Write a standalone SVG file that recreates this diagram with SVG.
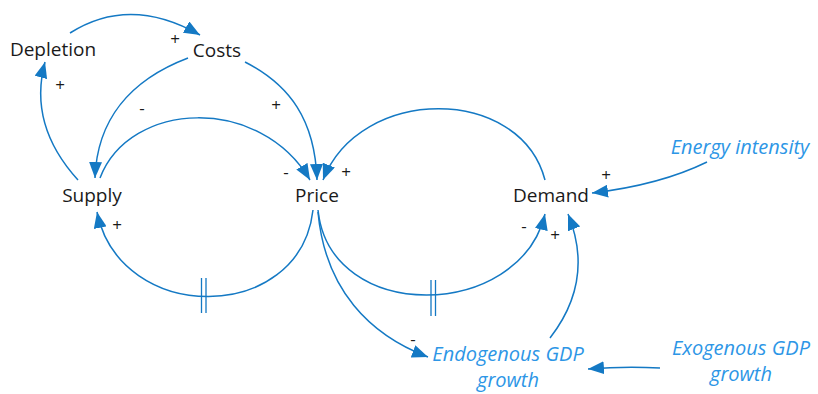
<svg xmlns="http://www.w3.org/2000/svg" width="818" height="394" viewBox="0 0 818 394">
<defs>
<marker id="ah" markerUnits="userSpaceOnUse" markerWidth="17" markerHeight="13" refX="16" refY="6.5" orient="auto">
<path d="M0,0 L16,6.5 L0,13 Z" fill="#1479c4"/>
</marker>
<style>
.c{fill:none;stroke:#1479c4;stroke-width:1.5;marker-end:url(#ah)}
.d{fill:none;stroke:#1479c4;stroke-width:1.3}
.n{font-family:"Open Sans","Noto Sans",sans-serif;font-size:19px;fill:#1a1a1a;text-anchor:middle}
.e{font-family:"Open Sans","Noto Sans",sans-serif;font-size:20px;fill:#2d96e6;font-style:italic;text-anchor:middle}
.s{font-family:"Open Sans","Noto Sans",sans-serif;font-size:17px;fill:#1a1a1a;text-anchor:middle}
</style>
</defs>
<rect width="818" height="394" fill="#ffffff"/>
<g id="connectors">
<path class="c" d="M70,33 Q130,-5 200,35"/>
<path class="c" d="M78,180 Q28,125 45,62"/>
<path class="c" d="M188,58 C130,80 97,120 95,178"/>
<path class="c" d="M245,62 C290,85 315,120 317,180"/>
<path class="c" d="M100,178 C130,100 260,95 310,180"/>
<path class="c" d="M545,180 C520,85 360,85 323,180"/>
<path class="c" d="M313,210 C300,325 120,325 97,212"/>
<path class="c" d="M318,210 C330,325 520,320 545,214"/>
<path class="c" d="M318,212 C325,290 370,335 428,357"/>
<path class="c" d="M550,338 Q595,280 568,214"/>
<path class="c" d="M707,162 Q660,185 592,193"/>
<path class="c" d="M660,368 Q625,366 588,369"/>
<path class="d" d="M201.5,278 V313 M206,278 V313"/>
<path class="d" d="M431,280 V316 M435.5,280 V316"/>
</g>
<g id="signs">
<text class="s" x="175" y="45">+</text>
<text class="s" x="60" y="91">+</text>
<text class="s" x="142" y="114">-</text>
<text class="s" x="276" y="111">+</text>
<text class="s" x="286" y="178">-</text>
<text class="s" x="346" y="178">+</text>
<text class="s" x="117" y="231">+</text>
<text class="s" x="524" y="232">-</text>
<text class="s" x="555" y="241">+</text>
<text class="s" x="413" y="345">-</text>
<text class="s" x="606" y="181">+</text>
</g>
<g id="depletion"><text class="n" x="53" y="56">Depletion</text></g>
<g id="costs"><text class="n" x="217" y="57">Costs</text></g>
<g id="supply"><text class="n" x="92" y="202">Supply</text></g>
<g id="price"><text class="n" x="317" y="202">Price</text></g>
<g id="demand"><text class="n" x="551" y="202">Demand</text></g>
<g id="energy-intensity"><text class="e" x="740" y="154">Energy intensity</text></g>
<g id="endogenous-gdp"><text class="e" x="508" y="361">Endogenous GDP</text><text class="e" x="508" y="387">growth</text></g>
<g id="exogenous-gdp"><text class="e" x="741" y="355">Exogenous GDP</text><text class="e" x="741" y="381">growth</text></g>
</svg>
